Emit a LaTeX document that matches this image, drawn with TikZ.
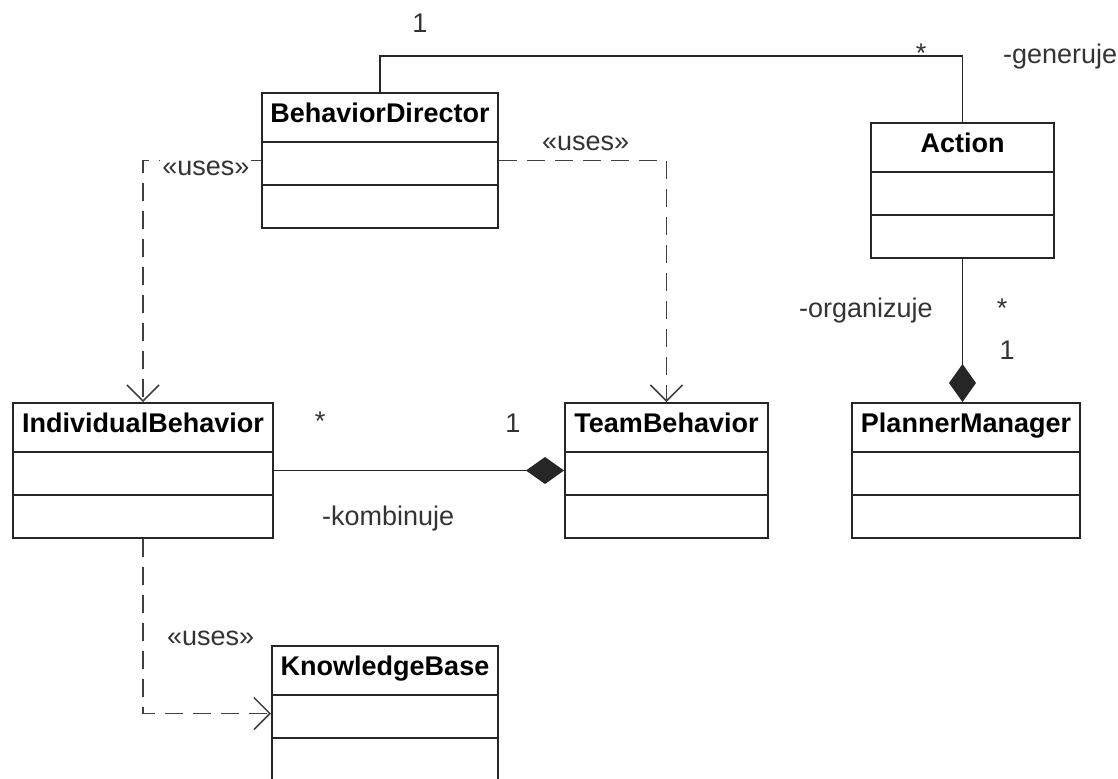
\documentclass[tikz,border=0pt]{standalone}
\usepackage{fontspec}
\setmainfont{Liberation Sans}
\usetikzlibrary{arrows.meta}
\tikzset{
  cls/.style={draw=black!85, line width=1pt, minimum height=67.5pt, inner sep=0pt},
  clsname/.style={anchor=base, font=\fontsize{13.5}{16}\selectfont\bfseries},
  lbl/.style={anchor=base, text=black!80},
  uses/.style={draw=black!75, line width=0.75pt, dash pattern=on 9pt off 5pt, -{Straight Barb[length=8pt,width=16pt]}},
  assoc/.style={draw=black!85, line width=0.75pt},
  comp/.style={draw=black!85, line width=0.75pt, -{Diamond[length=19pt,width=13.5pt]}}
}
\newcommand{\compartments}[1]{%
  \draw[black!85, line width=1pt] ([yshift=-25pt]#1.north west) -- ([yshift=-25pt]#1.north east);
  \draw[black!85, line width=1pt] ([yshift=-46.5pt]#1.north west) -- ([yshift=-46.5pt]#1.north east);}

\begin{document}
\begin{tikzpicture}[x=0.5pt, y=-0.5pt, font=\fontsize{13.5}{16}\selectfont]
  \useasboundingbox (0,0) rectangle (1118,778);
  \node[cls, minimum width=118pt] (director) at (380,160.5) {};
  \node[cls, minimum width=91.5pt] (action) at (962.5,190.5) {};
  \node[cls, minimum width=130pt] (individual) at (143,470.5) {};
  \node[cls, minimum width=101.5pt] (team) at (666.5,470.5) {};
  \node[cls, minimum width=114pt] (planner) at (966,470.5) {};
  \node[cls, minimum width=113pt] (knowledge) at (385,713.5) {};
  \foreach \c in {director,action,individual,team,planner,knowledge} {\compartments{\c}}
  \node[clsname] (directorname) at ([yshift=-15.25pt]director.north) {BehaviorDirector};
  \node[clsname] (actionname) at ([yshift=-15.25pt]action.north) {Action};
  \node[clsname] (individualname) at ([yshift=-15.25pt]individual.north) {IndividualBehavior};
  \node[clsname] (teamname) at ([yshift=-15.25pt]team.north) {TeamBehavior};
  \node[clsname] (plannername) at ([yshift=-15.25pt]planner.north) {PlannerManager};
  \node[clsname] (knowledgename) at ([yshift=-15.25pt]knowledge.north) {KnowledgeBase};

  \draw[assoc] (director.north) -- ++(0,-36) -| (action.north);
  \draw[uses] (director.west) -| (individual.north);
  \draw[uses] (director.east) -| (team.north);
  \draw[uses] (individual.south) |- (knowledge.west);
  \draw[comp] (individual.east) -- (team.west);
  \draw[comp] (action.south) -- (action.south |- planner.north);

  \node[lbl] (m1) at (420,32) {1};
  \node[lbl] (m2) at (921,62) {*};
  \node[lbl, anchor=base west] (r1) at (996,63) {-generuje};
  \node[lbl, anchor=base west] (r2) at (792,317) {-organizuje};
  \node[lbl] (m3) at (1002,317) {*};
  \node[lbl] (m4) at (1007,359) {1};
  \node[lbl] (m5) at (320,430) {*};
  \node[lbl] (m6) at (513,432) {1};
  \node[lbl, anchor=base west] (r3) at (315,525) {-kombinuje};
  \node[lbl, anchor=base west, fill=white, inner sep=1pt] (s1) at (160,175) {«uses»};
  \node[lbl, anchor=base west] (s2) at (535,150) {«uses»};
  \node[lbl, anchor=base west] (s3) at (160,645) {«uses»};
\end{tikzpicture}
\end{document}
